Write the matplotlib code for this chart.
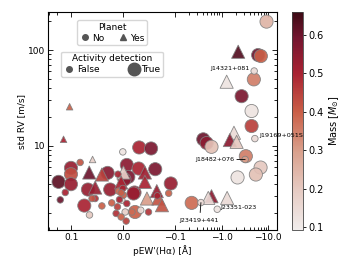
import matplotlib
matplotlib.use('Agg')
import matplotlib.pyplot as plt
import numpy as np
from matplotlib.colors import LinearSegmentedColormap, Normalize
from matplotlib.lines import Line2D
from matplotlib.ticker import SymmetricalLogLocator, FuncFormatter, NullFormatter

# pseudo equivalent width of H-alpha [A], std of RV [m/s], stellar mass [Msun]
pew = [0.147, 0.109, -0.031, -0.054, 0.0006, 0.059, 0.083, 0.102, 0.102, 0.188,
       0.102, 0.135, 0.173, 0.0655, 0.041, 0.030, 0.068, 0.054, 0.025, 0.054,
       0.075, 0.065, 0.041, -0.0071, -0.030, -0.062, -0.0006, 0.010, -0.010, 0.0039,
       -0.042, -0.042, -0.022, 0.009, -0.046, -0.068, -0.066, -0.092, -0.088, -0.075,
       -0.049, -0.023, -0.034, -0.0058, 0.022, 0.011, 0.0025, -0.0006, 0.0071, -0.0071,
       0.0135, -0.0039, -0.017, 0.0039, 0.0006, 0.0039, -0.020, -0.0025, -0.065, 0.060,
       -9.25, -2.28, -6.11, -6.99, -5.02, -4.94, -1.29, -2.70, -4.42, -4.42,
       -1.85, -0.406, -0.48, -0.61, -1.51, -2.11, -5.2, -3.33, -3.22, -6.89,
       -5.46, -2.21, -0.229, -0.362, -0.61, -0.52, -1.32, -0.81]
std_rv = [11.7, 25.6, 9.62, 9.39, 8.65, 7.21, 6.71, 5.89, 5.06, 4.21,
          3.98, 3.26, 2.73, 5.27, 5.02, 5.22, 3.50, 3.67, 3.50, 2.82,
          2.38, 1.90, 2.36, 6.32, 5.80, 5.71, 5.27, 5.06, 4.74, 4.15,
          5.27, 4.21, 3.26, 3.37, 2.82, 2.82, 3.01, 4.05, 3.20, 2.40,
          2.04, 2.04, 2.13, 1.64, 2.54, 2.31, 2.71, 3.06, 2.75, 2.50,
          1.97, 2.04, 2.04, 1.81, 3.59, 3.23, 3.18, 4.46, 3.37, 2.82,
          198, 96, 88.7, 86.5, 60.4, 49.4, 46.7, 33.0, 23.1, 16.1,
          13.7, 11.7, 10.7, 9.77, 11.5, 11.0, 11.9, 7.80, 7.21, 5.94,
          5.02, 4.68, 2.54, 2.56, 2.98, 2.86, 2.86, 2.18]
mass = [0.50, 0.40, 0.50, 0.58, 0.12, 0.18, 0.42, 0.53, 0.43, 0.62,
        0.53, 0.50, 0.60, 0.60, 0.45, 0.56, 0.53, 0.53, 0.53, 0.48,
        0.50, 0.20, 0.40, 0.55, 0.50, 0.58, 0.18, 0.50, 0.58, 0.50,
        0.52, 0.50, 0.52, 0.38, 0.30, 0.42, 0.50, 0.53, 0.40, 0.42,
        0.47, 0.40, 0.15, 0.45, 0.40, 0.45, 0.15, 0.40, 0.50, 0.50,
        0.48, 0.18, 0.38, 0.40, 0.50, 0.40, 0.53, 0.55, 0.53, 0.42,
        0.25, 0.63, 0.60, 0.40, 0.15, 0.35, 0.12, 0.58, 0.12, 0.45,
        0.15, 0.60, 0.55, 0.22, 0.55, 0.20, 0.15, 0.35, 0.30, 0.20,
        0.22, 0.12, 0.38, 0.15, 0.55, 0.15, 0.15, 0.12]
planet = [1, 1, 0, 0, 0, 1, 0, 0, 0, 0,
          0, 0, 0, 1, 1, 0, 0, 1, 0, 0,
          0, 0, 0, 0, 0, 0, 1, 0, 0, 1,
          1, 1, 0, 0, 1, 1, 0, 0, 0, 1,
          0, 0, 0, 0, 0, 0, 0, 0, 0, 0,
          0, 0, 0, 0, 0, 0, 0, 0, 1, 0,
          0, 1, 0, 0, 0, 0, 1, 0, 0, 0,
          1, 0, 0, 0, 1, 1, 0, 0, 0, 0,
          0, 0, 0, 0, 1, 1, 1, 0]
activity = [0, 0, 1, 1, 0, 0, 0, 1, 1, 1,
            1, 0, 0, 1, 1, 1, 1, 1, 1, 0,
            1, 0, 0, 1, 1, 1, 1, 0, 1, 1,
            1, 1, 1, 0, 1, 1, 0, 1, 0, 1,
            0, 1, 0, 0, 0, 0, 0, 0, 0, 0,
            0, 0, 0, 0, 0, 0, 1, 1, 1, 0,
            1, 1, 1, 1, 0, 1, 1, 1, 1, 1,
            1, 1, 1, 1, 1, 1, 0, 1, 0, 1,
            1, 1, 1, 0, 1, 1, 1, 0]

labelled = {'J14321+081': 64, 'J19169+051S': 76, 'J18482+076': 78,
            'J23419+441': 83, 'J23351-023': 87}

x_ticks = [0.1, 0.0, -0.1, -1.0, -10.0]
x_tick_labels = ['0.1', '0.0', '\u22120.1', '\u22121.0', '\u221210.0']

pew = np.array(pew)
std_rv = np.array(std_rv)
mass = np.array(mass)
planet = np.array(planet, dtype=bool)
activity = np.array(activity, dtype=bool)

# approximation of the cmocean "amp" map
amp = LinearSegmentedColormap.from_list('amp', [
    (0.00, '#f1edec'), (0.18, '#e6cbc3'), (0.36, '#d9a08c'),
    (0.54, '#ca5f47'), (0.72, '#a82232'), (0.88, '#741630'),
    (1.00, '#3c0a14')])
norm = Normalize(vmin=0.093, vmax=0.66)

plt.rcParams['font.size'] = 6.5
plt.rcParams['xtick.direction'] = 'in'
plt.rcParams['ytick.direction'] = 'in'

fig = plt.figure(figsize=(3.49, 2.72), dpi=100)
ax = fig.add_axes([0.137, 0.154, 0.657, 0.801])
cax = fig.add_axes([0.837, 0.154, 0.032, 0.803])
ax.set_zorder(cax.get_zorder() + 1)  # labels may run over the colorbar

for act, size in [(True, 90), (False, 22)]:
    for pl, mk in [(False, 'o'), (True, '^')]:
        sel = (activity == act) & (planet == pl)
        ax.scatter(pew[sel], std_rv[sel], c=mass[sel], cmap=amp, norm=norm,
                   s=size, marker=mk, edgecolors='#808080', linewidths=0.6,
                   alpha=0.92, zorder=3)

ax.set_xscale('symlog', linthresh=0.1)
ax.set_yscale('log')
ax.set_xlim(0.32, -15.6)
ax.set_ylim(1.32, 248)

ax.set_xticks(x_ticks)
ax.set_xticklabels(x_tick_labels)
ax.xaxis.set_minor_locator(SymmetricalLogLocator(linthresh=0.1, base=10, subs=np.arange(2, 10)))
ax.yaxis.set_major_formatter(FuncFormatter(lambda v, p: '%d' % v))
ax.yaxis.set_minor_formatter(NullFormatter())
ax.tick_params(which='both', top=True, right=True, width=0.6)
ax.tick_params(which='major', length=3.5, pad=2)
ax.tick_params(which='minor', length=2)
for sp in ax.spines.values():
    sp.set_linewidth(0.8)

ax.set_xlabel("pEW'(H\u03b1) [\u00c5]", labelpad=2)
ax.set_ylabel('std RV [m/s]', labelpad=1)

# annotations
ann_kw = dict(textcoords='offset points', fontsize=4.6, zorder=5, annotation_clip=False)
i = labelled['J14321+081']
ax.annotate('J14321+081', (pew[i], std_rv[i]), xytext=(-3, 0), ha='right', va='bottom', **ann_kw)
i = labelled['J19169+051S']
ax.annotate('J19169+051S', (pew[i], std_rv[i]), xytext=(3.4, 0.5), ha='left', va='bottom', **ann_kw)
i = labelled['J18482+076']
ax.annotate('J18482+076', (pew[i], std_rv[i]), xytext=(-8, 0), ha='right', va='center',
            arrowprops=dict(arrowstyle='-', lw=0.6, color='k', shrinkA=0, shrinkB=0), **ann_kw)
i = labelled['J23419+441']
ax.annotate('J23419+441', (pew[i], std_rv[i]), xytext=(-1, -13), ha='center', va='center',
            arrowprops=dict(arrowstyle='-', lw=0.6, color='k', shrinkA=2, shrinkB=0), **ann_kw)
i = labelled['J23351-023']
ax.annotate('J23351-023', (pew[i], std_rv[i]), xytext=(2.5, 1), ha='left', va='center', **ann_kw)

# legends
gray = '#555555'
h_planet = [Line2D([], [], ls='', marker='o', color=gray, ms=4),
            Line2D([], [], ls='', marker='^', color=gray, ms=4)]
leg1 = ax.legend(h_planet, ['No', 'Yes'], title='Planet', ncol=2, loc='upper center',
                 bbox_to_anchor=(0.28, 0.985), fontsize=6.5, title_fontsize=6.5,
                 handletextpad=0.2, columnspacing=1.4, borderpad=0.3, labelspacing=0.2,
                 handlelength=1.2, framealpha=0.8, edgecolor='#cccccc')
ax.add_artist(leg1)
h_act = [Line2D([], [], ls='', marker='o', color=gray, ms=4),
         Line2D([], [], ls='', marker='o', color=gray, ms=9)]
ax.legend(h_act, ['False', 'True'], title='Activity detection', ncol=2, loc='upper center',
          bbox_to_anchor=(0.28, 0.84), fontsize=6.5, title_fontsize=6.5,
          handletextpad=0.2, columnspacing=3.2, borderpad=0.3, labelspacing=0.2,
          handlelength=1.2, framealpha=0.8, edgecolor='#cccccc')

sm = plt.cm.ScalarMappable(norm=norm, cmap=amp)
cb = fig.colorbar(sm, cax=cax)
cb.set_ticks([0.1, 0.2, 0.3, 0.4, 0.5, 0.6])
cb.ax.tick_params(direction='out', length=2.5, width=0.6, pad=1.5, labelsize=7)
cb.outline.set_linewidth(0.6)
cb.outline.set_edgecolor('#444444')
cb.set_label(r'Mass [$M_{\odot}$]', fontsize=7, labelpad=2)

fig.savefig('out.png', dpi=100)
